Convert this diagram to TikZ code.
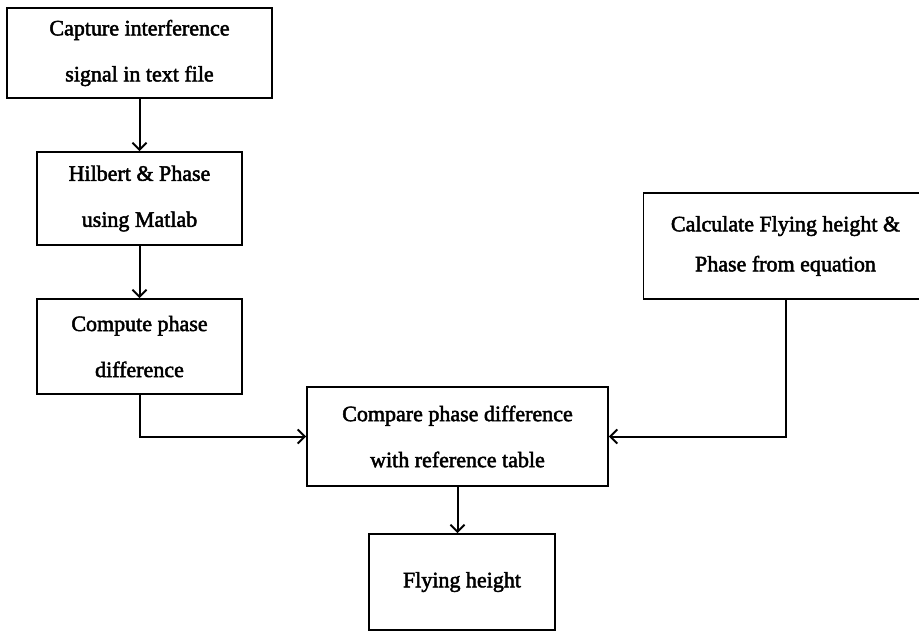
\documentclass[tikz,border=0pt]{standalone}
\usepackage{fontspec}
\setmainfont{Liberation Serif}
\usepackage{tikz}
\usetikzlibrary{positioning,arrows.meta}
\tikzset{x=1pt, y=1pt,
  block/.style={draw, line width=1.8pt, align=center, inner sep=0pt,
    font=\fontsize{22}{46}\selectfont\addfontfeature{FakeBold=2.2}},
  flow/.style={draw, line width=2pt, -{Straight Barb[length=7pt,width=14pt]}}}

\begin{document}
\begin{tikzpicture}
              \clip (0,0) rectangle (919,-633);

              \node[block, minimum width=265, minimum height=90] (capture) at (139.5,-53)
                   {Capture interference\\signal in text file};
              \node[block, minimum width=205, minimum height=93] (hilbert) at (139.5,-198.5)
                   {Hilbert \& Phase\\using Matlab};
              \node[block, minimum width=205, minimum height=95] (phdiff) at (139.5,-346.5)
                   {Compute phase\\difference};

              \node[block, minimum width=301, minimum height=99] (compare) at (457.5,-436.5)
                   {Compare phase difference\\with reference table};
              \node[block, minimum width=186, minimum height=96] (height) at (462,-582)
                   {Flying height};

              \node[block, minimum width=284, minimum height=106,
                    font=\fontsize{22}{40}\selectfont\addfontfeature{FakeBold=2.2}] (calc) at (785.5,-246)
                   {Calculate Flying height \&\\Phase from equation};

              \draw [flow] (capture) to (hilbert);
              \draw [flow] (hilbert) to (phdiff);
              \draw [flow] (phdiff.south) |- (compare.west);
              \draw [flow] (calc.south) |- (compare.east);
              \draw [flow] (compare.south) to (compare.south |- height.north);
            \end{tikzpicture}
\end{document}
